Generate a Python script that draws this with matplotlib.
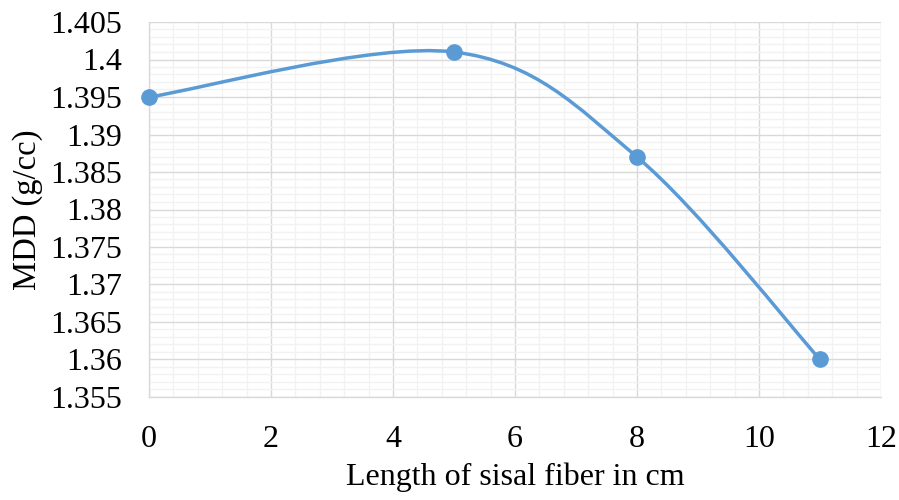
import numpy as np
import matplotlib
matplotlib.use("Agg")
import matplotlib.pyplot as plt
from matplotlib.path import Path
from matplotlib.patches import PathPatch
from matplotlib.ticker import MultipleLocator

# fiber length (cm) vs maximum dry density
length_cm = [0, 5, 8, 11]
mdd = [1.395, 1.401, 1.387, 1.36]

x_ticks = [0, 2, 4, 6, 8, 10, 12]
y_ticks = [1.355, 1.36, 1.365, 1.37, 1.375, 1.38, 1.385, 1.39, 1.395, 1.4, 1.405]
y_labels = ["1.355", "1.36", "1.365", "1.37", "1.375", "1.38", "1.385",
            "1.39", "1.395", "1.4", "1.405"]

BLUE = "#5B9BD5"
plt.rcParams["font.family"] = ["Liberation Serif", "DejaVu Serif"]


def smooth_path(xs, ys):
    # spreadsheet-style smoothed line: cubic Bezier through every point
    pts = np.column_stack([xs, ys]).astype(float)
    padded = np.vstack([pts[0], pts, pts[-1]])
    verts = [pts[0]]
    codes = [Path.MOVETO]
    for i in range(1, len(padded) - 2):
        p0, p1, p2, p3 = padded[i - 1], padded[i], padded[i + 1], padded[i + 2]
        verts += [p1 + (p2 - p0) / 6, p2 - (p3 - p1) / 6, p2]
        codes += [Path.CURVE4] * 3
    return Path(verts, codes)


fig = plt.figure(figsize=(8.99, 5.0), dpi=100)
ax = fig.add_axes([149 / 899, 1 - 397 / 500, (881 - 149) / 899, (397 - 22) / 500])

ax.set_xlim(0, 12)
ax.set_ylim(1.355, 1.405)
ax.set_xticks(x_ticks)
ax.set_yticks(y_ticks)
ax.set_yticklabels(y_labels)
ax.xaxis.set_minor_locator(MultipleLocator(0.4))
ax.yaxis.set_minor_locator(MultipleLocator(0.001))
ax.grid(which="major", color="#D9D9D9", lw=1.0)
ax.grid(which="minor", color="#F2F2F2", lw=1.0)
ax.set_axisbelow(True)
ax.tick_params(which="both", length=0, labelsize=23, colors="black")
ax.tick_params(axis="y", pad=19)
ax.tick_params(axis="x", pad=20)
for side in ["top", "right"]:
    ax.spines[side].set_visible(False)
for side in ["left", "bottom"]:
    ax.spines[side].set_color("#D9D9D9")
    ax.spines[side].set_linewidth(1.0)

ax.add_patch(PathPatch(smooth_path(length_cm, mdd), fill=False,
                       edgecolor=BLUE, lw=2.5, zorder=3, clip_on=False))
ax.plot(length_cm, mdd, "o", color=BLUE, ms=11, zorder=4, clip_on=False)

ax.set_xlabel("Length of sisal fiber in cm", fontsize=23)
ax.set_ylabel("MDD (g/cc)", fontsize=23.5)
ax.xaxis.set_label_coords(0.5, (397 - 477) / 375)
ax.yaxis.set_label_coords((28 - 149) / 732, 0.5)
ax.xaxis.label.set_va("center")
ax.yaxis.label.set_va("center")

fig.savefig("out.png", dpi=100)
